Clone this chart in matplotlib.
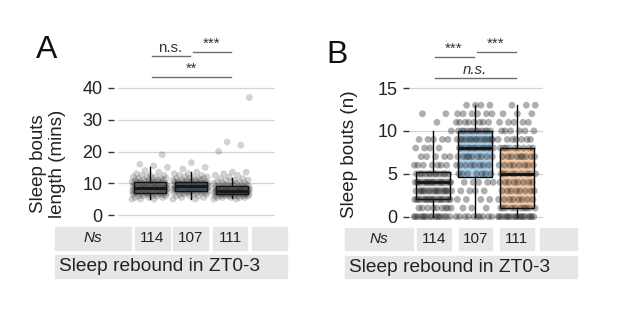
import numpy as np
import matplotlib
matplotlib.use('Agg')
import matplotlib.pyplot as plt
from matplotlib.patches import Rectangle
from matplotlib.transforms import blended_transform_factory

plt.rcParams['font.family'] = ['Liberation Sans', 'DejaVu Sans']

# ---- data ----
groups = ['g1', 'g2', 'g3']
ns = [114, 107, 111]
box_colors = ['#e3e3e3', '#a8d0ea', '#f5c9a6']

# Panel A: bout length (mins), value -> count
len_vals = [
    [5.0, 5.5, 6.0, 6.5, 7.0, 7.5, 8.0, 8.5, 9.0, 9.5, 10.0, 10.5, 11.0, 11.5,
     12.0, 12.5, 13.0, 13.5, 14.0, 15.0, 15.5, 16.0, 19.0],
    [5.0, 5.5, 6.0, 6.5, 7.0, 7.5, 8.0, 8.5, 9.0, 9.5, 10.0, 10.5, 11.0, 11.5,
     12.0, 12.5, 13.0, 13.5, 14.5, 15.0, 16.5],
    [5.0, 5.5, 6.0, 6.5, 7.0, 7.5, 8.0, 8.5, 9.0, 9.5, 10.0, 10.5, 11.0, 11.5,
     12.0, 12.5, 13.0, 13.5, 20.0, 22.0, 23.0, 37.0],
]
len_counts = [
    [3, 3, 5, 7, 9, 10, 11, 11, 10, 8, 8, 7, 5, 4, 3, 3, 1, 1, 1, 1, 1, 1, 1],
    [2, 2, 3, 4, 6, 9, 11, 12, 12, 10, 9, 7, 5, 4, 3, 2, 2, 1, 1, 1, 1],
    [2, 5, 8, 11, 13, 13, 13, 10, 8, 6, 4, 3, 3, 2, 1, 2, 1, 2, 1, 1, 1, 1],
]
# box stats: whislo, q1, med, q3, whishi
len_stats = [
    [5.0, 7.0, 8.5, 10.5, 15.0],
    [5.0, 7.5, 9.0, 10.5, 13.5],
    [5.5, 6.5, 7.5, 9.0, 11.5],
]

# Panel B: number of bouts (integers 0..13), counts per value
bout_vals = list(range(14))
bout_counts = [
    [16, 9, 18, 16, 18, 12, 7, 5, 4, 5, 1, 1, 2, 0],
    [10, 3, 4, 4, 5, 7, 8, 9, 13, 14, 12, 8, 6, 4],
    [18, 10, 8, 8, 8, 9, 8, 9, 9, 7, 6, 5, 3, 3],
]
bout_stats = [
    [0, 2.0, 4.0, 5.2, 10],
    [0, 4.6, 8.0, 10.0, 13],
    [0, 1.0, 5.0, 8.0, 13],
]

sig_a = [(1, 2, 'n.s.', 56), (2, 3, '***', 52), (1, 3, '**', 77)]
sig_b = [(1, 2, '***', 57), (2, 3, '***', 52), (1, 3, 'n.s.', 78)]

W, H = 617, 318
fig = plt.figure(figsize=(W / 100, H / 100), dpi=100)


def fx(px):
    return px / W


def fy(py):
    return 1 - py / H


def strip(ax, vals, counts, stats, width, alpha):
    bx = []
    for s in stats:
        bx.append(dict(whislo=s[0], q1=s[1], med=s[2], q3=s[3], whishi=s[4], fliers=[]))
    parts = ax.bxp(bx, positions=[1, 2, 3], widths=0.8, patch_artist=True,
                   showcaps=False, manage_ticks=False,
                   boxprops=dict(linewidth=1.0, edgecolor='black'),
                   medianprops=dict(color='black', linewidth=2.0),
                   whiskerprops=dict(color='black', linewidth=1.0))
    for patch, c in zip(parts['boxes'], box_colors):
        patch.set_facecolor(c)
    for k, (v, c) in enumerate(zip(vals, counts)):
        y = np.repeat(v, c)
        i = np.arange(len(y))
        off = ((i * 0.6180339887) % 1.0 - 0.5) * 2 * width
        ax.scatter(k + 1 + off, y, s=24, color='#202020', alpha=alpha,
                   edgecolors='none', zorder=3)


def style(ax, ylim, xlim, ticks, gap):
    ax.set_ylim(*ylim)
    ax.set_xlim(*xlim)
    ax.set_yticks(ticks)
    ax.set_xticks([])
    for sp in ax.spines.values():
        sp.set_visible(False)
    ax.spines['left'].set_position(('outward', gap))
    ax.grid(axis='y', color='#d4d4d4', linewidth=0.9)
    ax.set_axisbelow(True)
    ax.tick_params(axis='y', length=4, width=1, color='#333333', pad=4,
                   labelsize=13, labelcolor='#222222')


def sig(ax, items, fs_map):
    tr = blended_transform_factory(ax.transData, fig.transFigure)
    for x0, x1, lab, py in items:
        ax.plot([x0 + 0.05, x1 - 0.02], [fy(py), fy(py)], color='#707070', lw=1.0,
                transform=tr, clip_on=False)
        st = 'italic' if (lab == 'n.s.' and x1 - x0 == 2) else 'normal'
        ax.text((x0 + x1) / 2, fy(py - 1), lab, ha='center', va='bottom',
                fontsize=fs_map[lab], fontstyle=st, color='#333333',
                transform=tr)


def table(x0, cells, x1, row1, row2):
    fig.patches.append(Rectangle((fx(x0), fy(row1[1])), fx(cells[0][0] - x0 - 4),
                                 fy(row1[0]) - fy(row1[1]), color='#e6e6e6',
                                 transform=fig.transFigure))
    fig.text(fx((x0 + cells[0][0] - 4) / 2), fy((row1[0] + row1[1]) / 2), 'Ns',
             ha='center', va='center', fontsize=11, fontstyle='italic', color='#222222')
    labels = [str(n) for n in ns] + ['']
    for (a, b), lab in zip(cells, labels):
        fig.patches.append(Rectangle((fx(a), fy(row1[1])), fx(b - a),
                                     fy(row1[0]) - fy(row1[1]), color='#e6e6e6',
                                     transform=fig.transFigure))
        fig.text(fx((a + b) / 2), fy((row1[0] + row1[1]) / 2), lab,
                 ha='center', va='center', fontsize=11, color='#222222')
    fig.patches.append(Rectangle((fx(x0), fy(row2[1])), fx(x1 - x0),
                                 fy(row2[0]) - fy(row2[1]), color='#e6e6e6',
                                 transform=fig.transFigure))
    fig.text(fx(x0 + 4), fy((row2[0] + row2[1]) / 2), 'Sleep rebound in ZT0-3',
             ha='left', va='center', fontsize=13.8, color='#222222')


# ---- panel A ----
axA = fig.add_axes([fx(118), fy(221.35), fx(157), fy(81.65) - fy(221.35)])
strip(axA, len_vals, len_counts, len_stats, 0.44, 0.2)
style(axA, (-2, 42), (0.22, 4.05), [0, 10, 20, 30, 40], 3)
sig(axA, sig_a, {'n.s.': 10.8, '***': 11, '**': 10.5})
fig.text(fx(48), fy(164), 'Sleep bouts\nlength (mins)', rotation=90,
         ha='center', va='center', fontsize=13.5, color='#222222', linespacing=1.2)
fig.text(fx(47), fy(50), 'A', ha='center', va='center', fontsize=23, color='#111111')
table(55, [(135, 170), (173, 208), (213, 247), (252, 287)], 287, (227, 250), (255, 278))

# ---- panel B ----
axB = fig.add_axes([fx(410), fy(222.3), fx(133), fy(81.7) - fy(222.3)])
strip(axB, [bout_vals] * 3, bout_counts, bout_stats, 0.45, 0.36)
style(axB, (-0.66, 15.74), (0.45, 3.62), [0, 5, 10, 15], 1)
sig(axB, sig_b, {'n.s.': 10.8, '***': 11, '**': 10.5})
fig.text(fx(350), fy(154), 'Sleep bouts (n)', rotation=90,
         ha='center', va='center', fontsize=13.6, color='#222222')
fig.text(fx(337), fy(55), 'B', ha='center', va='center', fontsize=23, color='#111111')
table(345, [(417, 451), (459, 492), (500, 534), (540, 577)], 577, (228, 250), (256, 278))

fig.savefig('out.png', dpi=100)
